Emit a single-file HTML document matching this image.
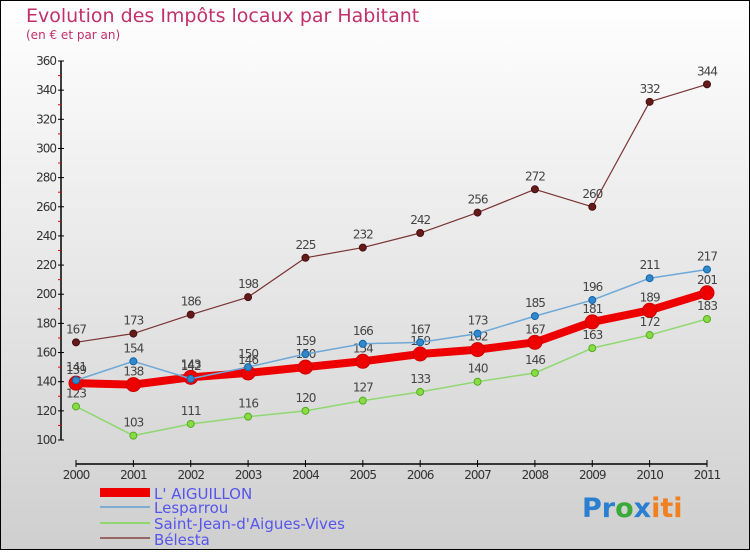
<!DOCTYPE html>
<html><head><meta charset="utf-8"><style>
body{margin:0}
#c{width:750px;height:550px;position:relative;font-family:"DejaVu Sans","Liberation Sans",sans-serif}
</style></head><body>
<div id="c">
<svg id="s" width="750" height="550" xmlns="http://www.w3.org/2000/svg">
<defs><linearGradient id="bg" x1="0" y1="0" x2="0" y2="1"><stop offset="0" stop-color="#ffffff"/><stop offset="1" stop-color="#cfcfcf"/></linearGradient></defs>
<rect x="0.5" y="0.5" width="749" height="549" fill="url(#bg)" stroke="#000"/>
<text x="26" y="22" font-size="19" fill="#c0306a">Evolution des Impôts locaux par Habitant</text>
<text x="26" y="39" font-size="12" fill="#c0306a">(en € et par an)</text>
<g id="axes"></g><g id="series"></g>
<g>
<rect x="100" y="488" width="50" height="9" fill="#ee0000"/>
<text x="154" y="499" font-size="15" fill="#5555ee">L' AIGUILLON</text>
<rect x="100" y="506" width="50" height="2" fill="#7aaed6"/>
<text x="154" y="513" font-size="15" fill="#5555ee">Lesparrou</text>
<rect x="100" y="522" width="50" height="2" fill="#8fd870"/>
<text x="154" y="529" font-size="15" fill="#5555ee">Saint-Jean-d'Aigues-Vives</text>
<rect x="100" y="537" width="50" height="2" fill="#996666"/>
<text x="154" y="545" font-size="15" fill="#5555ee">Bélesta</text>
</g>
<text x="582" y="517" font-size="27" font-weight="bold"><tspan fill="#2a7fd0">Pr</tspan><tspan fill="#3aaa3a">o</tspan><tspan fill="#2a7fd0">x</tspan><tspan fill="#f08020">iti</tspan></text>
</svg></div>
<script>
const years=["2000","2001","2002","2003","2004","2005","2006","2007","2008","2009","2010","2011"];
const yTicks=[100,120,140,160,180,200,220,240,260,280,300,320,340,360];
const aiguillon=[139,138,143,146,150,154,159,162,167,181,189,201];
const lesparrou=[141,154,142,150,159,166,167,173,185,196,211,217];
const saintJean=[123,103,111,116,120,127,133,140,146,163,172,183];
const belesta=[167,173,186,198,225,232,242,256,272,260,332,344];
const NS="http://www.w3.org/2000/svg";
const X=i=>76+i*(707-76)/11;
const Y=v=>440-(v-100)*(440-61)/260;
function mk(t,a,p){const e=document.createElementNS(NS,t);for(const k in a)e.setAttribute(k,a[k]);p.appendChild(e);return e;}
const ax=document.getElementById('axes');
let e=mk('line',{x1:61,y1:Y(360),x2:61,y2:Y(100),stroke:'#000','stroke-width':1.5},ax);


yTicks.forEach((v,i)=>{
 mk('line',{x1:58,y1:Y(v),x2:64,y2:Y(v),stroke:'#000'},ax);
 if(i<yTicks.length-1)mk('line',{x1:58,y1:Y(v+10),x2:61,y2:Y(v+10),stroke:'#e00'},ax);
 const t=mk('text',{x:56,y:Y(v)+4,'font-size':12,'text-anchor':'end',fill:'#333','letter-spacing':'-1'},ax);
 t.textContent=v;
 
 
});
e=mk('line',{x1:76,y1:464,x2:707,y2:464,stroke:'#000','stroke-width':1.5},ax);


years.forEach((y,i)=>{
 mk('line',{x1:X(i),y1:460,x2:X(i),y2:467,stroke:'#000'},ax);
 const t=mk('text',{x:X(i),y:479,'font-size':12,'text-anchor':'middle',fill:'#333','letter-spacing':'-1'},ax);
 t.textContent=y;
 
 
});
const sg=document.getElementById('series');
function series(name,data,color,w,r,dot,dotStroke){
 const g=mk('g',{},sg);
 
 
 mk('polyline',{points:data.map((v,i)=>X(i)+','+Y(v)).join(' '),fill:'none',stroke:color,'stroke-width':w,'stroke-linejoin':'round'},g);
 data.forEach((v,i)=>{
  const c=mk('circle',{cx:X(i),cy:Y(v),r:r,fill:dot,stroke:dotStroke,'stroke-width':1},g);
  
  
  const t=mk('text',{x:X(i),y:Y(v)-9,'font-size':12,'text-anchor':'middle',fill:'#444','letter-spacing':'-1'},g);
  t.textContent=v;
  
  
 });
}
series('belesta',belesta,'#7a3333',1.2,3.5,'#661a1a','#441010');
series('saint-jean',saintJean,'#8fd870',1.5,3.5,'#88dd44','#55aa22');
series('aiguillon',aiguillon,'#ee0000',8,7,'#ee0000','#cc0000');
series('lesparrou',lesparrou,'#6ea8d8',1.5,3.5,'#3388cc','#1166aa');
</script>
</body></html>
